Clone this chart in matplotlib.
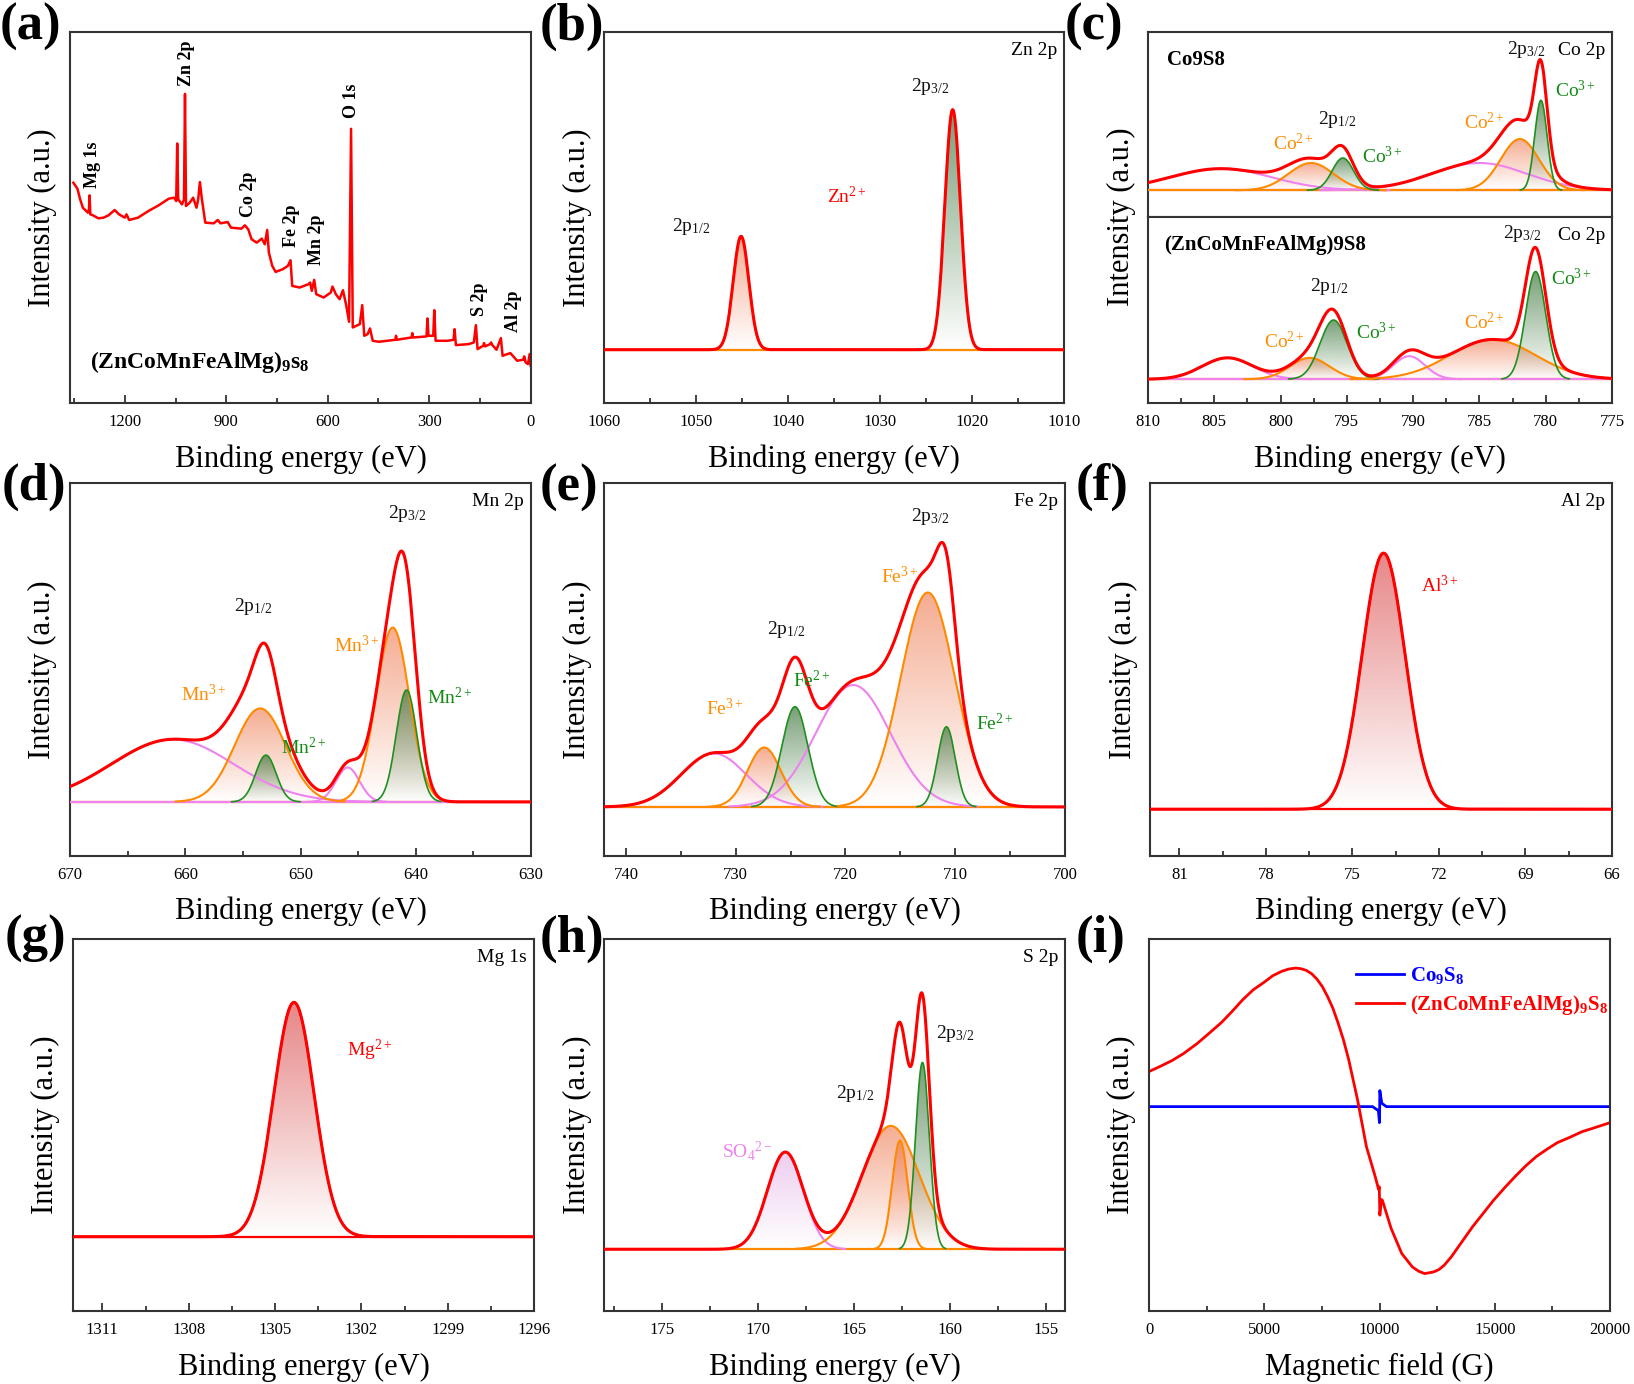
import numpy as np
import matplotlib
matplotlib.use('Agg')
import matplotlib.pyplot as plt
from matplotlib.colors import to_rgb
from matplotlib.patches import Polygon

plt.rcParams['font.family'] = ['Liberation Serif', 'DejaVu Serif']
plt.rcParams['mathtext.fontset'] = 'custom'
plt.rcParams['mathtext.rm'] = 'Liberation Serif'
plt.rcParams['mathtext.it'] = 'Liberation Serif:italic'
plt.rcParams['mathtext.bf'] = 'Liberation Serif:bold'

W, H = 1634, 1384

# ---------------- data ----------------
# (a) survey spectrum: binding energy (eV) / intensity (a.u.)
survey_ev = [1352, 1340, 1332, 1324, 1309, 1306, 1304, 1302, 1294, 1278, 1263, 1248, 1230, 1217,
             1200, 1195, 1187, 1161, 1130, 1100, 1070, 1054, 1048, 1045, 1042, 1031, 1025, 1022,
             1019, 1008, 998, 988, 983, 978, 972, 962, 937, 925, 917, 896, 886, 855, 845, 835, 825,
             810, 795, 786, 779, 774, 764, 754, 733, 718, 710, 705, 683, 657, 652, 647, 640, 634,
             612, 591, 586, 576, 565, 555, 545, 537, 531, 526, 505, 498, 492, 482, 475, 467, 449,
             400, 398, 396, 352, 350, 348, 308, 305, 302, 288, 285, 281, 245, 228, 225, 221, 183,
             168, 162, 157, 140, 138, 135, 120, 117, 114, 101, 88, 83, 60, 40, 22, 19, 15, 8, 3, 0]
survey_int = [662, 644, 612, 587, 572, 582, 624, 567, 564, 555, 557, 564, 580, 567,
              557, 567, 550, 557, 577, 594, 614, 617, 607, 780, 612, 597, 612, 929,
              592, 602, 617, 587, 612, 664, 612, 542, 540, 550, 540, 544, 527, 524, 534, 522, 492,
              482, 494, 477, 520, 452, 412, 394, 402, 412, 429, 352, 347, 357, 362, 337, 370, 327,
              317, 332, 350, 327, 312, 339, 292, 244, 824, 227, 237, 294, 202, 207, 224, 187, 184,
              190, 202, 190, 197, 210, 197, 200, 254, 202, 202, 279, 187, 187, 190, 222, 174, 177,
              182, 234, 162, 172, 180, 170, 177, 182, 175, 160, 195, 142, 150, 127, 130, 140, 122, 117, 147, 112]
survey_names = ['Mg 1s', 'Zn 2p', 'Co 2p', 'Fe 2p', 'Mn 2p', 'O 1s', 'S 2p', 'Al 2p']
survey_name_ev = [1296, 1019, 833, 708, 634, 530, 151, 51]
survey_name_int = [717, 1022, 627, 532, 492, 907, 312, 277]

# fitted components: centre (eV), height (a.u.), FWHM (eV), species colour key
zn_center = [1045.1, 1022.1]
zn_height = [340, 720]
zn_fwhm = [2.0, 2.0]
zn_kind = ['o', 'g']

co_ref_center = [804.5, 785.0, 797.7, 795.3, 781.95, 780.36]
co_ref_height = [65, 82, 82, 97, 154, 270]
co_ref_fwhm = [9.0, 8.5, 4.0, 1.9, 3.4, 1.1]
co_ref_kind = ['p', 'p', 'o', 'g', 'o', 'g']

co_hea_center = [804.0, 790.3, 797.8, 796.0, 784.0, 780.76]
co_hea_height = [64, 69, 64, 177, 119, 322]
co_hea_fwhm = [4.5, 2.8, 3.5, 2.4, 7.6, 1.8]
co_hea_kind = ['p', 'p', 'o', 'g', 'o', 'g']

mn_center = [661.1, 645.9, 653.5, 653.0, 642.0, 640.8]
mn_height = [187, 103, 280, 140, 522, 335]
mn_fwhm = [12.5, 2.4, 5.2, 2.1, 3.4, 2.1]
mn_kind = ['p', 'p', 'o', 'g', 'o', 'g']

fe_center = [732.0, 719.3, 727.4, 724.6, 712.5, 710.8]
fe_height = [160, 365, 178, 300, 642, 240]
fe_fwhm = [7.0, 8.0, 3.6, 2.8, 5.8, 1.9]
fe_kind = ['p', 'p', 'o', 'g', 'o', 'g']

al_center = [73.92]
al_height = [767]
al_fwhm = [1.75]
al_kind = ['r']

mg_center = [1304.34]
mg_height = [703]
mg_fwhm = [1.65]
mg_kind = ['r']

s_center = [168.56, 163.07, 162.59, 161.42]
s_height = [291, 370, 326, 560]
s_fwhm = [2.2, 3.5, 0.95, 0.85]
s_kind = ['p', 'o', 'o', 'g']

# (i) EPR: magnetic field (G) / intensity (a.u.)
epr_ref_field = [0, 9700, 9950, 10000, 10015, 10100, 10300, 20000]
epr_ref_int = [612, 612, 600, 564, 660, 622, 612, 612]
epr_hea_field = [0, 500, 1000, 1500, 2071, 2531, 3144, 3604, 4064, 4525, 4985, 5368, 5752, 6058,
                 6365, 6595, 6825, 7055, 7285, 7515, 7745, 7975, 8206, 8436, 8666, 9049,
                 9433, 9816, 9960, 9990, 10015, 10080, 10123, 10506, 10966, 11426, 11702, 11963,
                 12347, 12577, 12807, 13113, 13420, 13727, 14034, 14494, 14954, 15414, 15874,
                 16334, 16794, 17255, 17715, 18252, 18788, 19248, 20000]
epr_hea_int = [717, 733, 750, 771, 800, 827, 864, 897, 932, 962, 984, 1004, 1017, 1024,
               1027, 1025, 1020, 1010, 994, 972, 942, 907, 862, 812, 752, 632,
               492, 402, 364, 372, 287, 334, 332, 247, 172, 132, 119, 112,
               117, 124, 137, 162, 192, 222, 252, 292, 332, 368, 402,
               434, 462, 484, 504, 520, 537, 547, 564]

# ---------------- styles ----------------
RED = '#ff0000'
LINE = {'o': '#ff8a00', 'g': '#1f8f1f', 'p': '#ee82ee', 'r': RED}
FILL = {'o': '#ee7548', 'g': '#2d6a2d', 'p': '#d890dc', 'r': '#d83c3c'}
ALPHA = {'o': 0.6, 'g': 0.65, 'p': 0.45, 'r': 0.62}
TXT = {'k': '#111111', 'o': '#ff8c00', 'g': '#138a13', 'r': RED, 'p': '#ee82ee'}


def gauss(x, c, h, w):
    return h * np.exp(-4 * np.log(2) * (x - c) ** 2 / w ** 2)


def grad_fill(ax, x, y, color, amax):
    verts = np.column_stack([np.r_[x, x[::-1]], np.r_[y, np.zeros_like(y)]])
    clip = Polygon(verts, closed=True, transform=ax.transData, facecolor='none', edgecolor='none')
    rgba = np.zeros((256, 1, 4))
    rgba[..., :3] = to_rgb(color)
    rgba[:, 0, 3] = np.linspace(0, amax, 256)
    im = ax.imshow(rgba, extent=[x.min(), x.max(), 0, y.max()], origin='lower',
                   aspect='auto', interpolation='bilinear', zorder=2)
    im.set_clip_path(clip)


def draw_fit(ax, xlim, centers, heights, fwhms, kinds, filled, base):
    x = np.linspace(min(xlim), max(xlim), 2500)
    total = np.zeros_like(x)
    for k in base:
        ax.plot(xlim, [0, 0], color=LINE[k], lw=1.6, zorder=3)
    for c, h, w, k in zip(centers, heights, fwhms, kinds):
        y = gauss(x, c, h, w)
        total += y
        if k in filled:
            grad_fill(ax, x, y, FILL[k], ALPHA[k])
        ax.plot(x, np.where(y > 0.004 * h, y, np.nan), color=LINE[k],
                lw=1.2 if k == 'g' else 1.5, zorder=3)
    ax.plot(x, total, color=RED, lw=2.2, zorder=5)


def style(ax, xlim, ylim, major, minor, xlabel='Binding energy (eV)', ylabel=True):
    ax.set_xlim(xlim)
    ax.set_ylim(ylim)
    ax.set_xticks(major, [str(v) for v in major])
    ax.set_xticks(minor, minor=True)
    ax.set_yticks([])
    ax.tick_params(axis='x', which='both', direction='in', labelsize=12, pad=8,
                   width=1.2, color='#222222', labelcolor='black')
    ax.tick_params(axis='x', which='major', length=6)
    ax.tick_params(axis='x', which='minor', length=3.5)
    for s in ax.spines.values():
        s.set_linewidth(1.5)
        s.set_color('#333333')
    if xlabel:
        ax.set_xlabel(xlabel, fontsize=22, labelpad=10)
    if ylabel:
        ax.set_ylabel('Intensity (a.u.)', fontsize=22, labelpad=9)


def corner(ax, s):
    ax.annotate(s, xy=(1, 1), xycoords='axes fraction', xytext=(-5, -7),
                textcoords='offset points', ha='right', va='top', fontsize=14)


def notes(ax, items):
    for s, x, y, k in items:
        ax.text(x, y, s, color=TXT[k], fontsize=14, ha='center', va='center', zorder=6)


def panel(x0, y0, x1, y1):
    return fig.add_axes([x0 / W, 1 - y1 / H, (x1 - x0) / W, (y1 - y0) / H])


fig = plt.figure(figsize=(W / 100, H / 100), dpi=100)
fig.patch.set_facecolor('white')

# ---- (a) survey ----
ax = panel(70, 32, 531, 403)
ax.plot(survey_ev, survey_int, color=RED, lw=1.8)
for s, x, y in zip(survey_names, survey_name_ev, survey_name_int):
    ax.text(x, y, s, rotation=90, fontsize=13, fontweight='bold', ha='center', va='center')
ax.text(1303, 122, r'$\mathbf{(ZnCoMnFeAlMg)_9s_8}$', fontsize=17, ha='left', va='center')
style(ax, (1362, -1), (0, 1115), [1200, 900, 600, 300, 0], [1350, 1050, 750, 450, 150])

# ---- (b) Zn 2p ----
ax = panel(604, 32, 1064, 403)
xl = (1060, 1010)
draw_fit(ax, xl, zn_center, zn_height, zn_fwhm, zn_kind, 'og', 'o')
notes(ax, [(r'2p$_{3/2}$', 1024.5, 790, 'k'), (r'2p$_{1/2}$', 1050.5, 370, 'k'),
           (r'Zn$^{2+}$', 1033.6, 460, 'r')])
corner(ax, 'Zn 2p')
style(ax, xl, (-160, 953), list(range(1060, 1009, -10)), list(range(1055, 1010, -10)))

# ---- (c) Co 2p ----
xl = (810, 775)
co_major = [810, 805, 800, 795, 790, 785, 780, 775]
co_minor = [807.5, 802.5, 797.5, 792.5, 787.5, 782.5, 777.5]
ax = panel(1148, 32, 1612, 217)
draw_fit(ax, xl, co_ref_center, co_ref_height, co_ref_fwhm, co_ref_kind, 'og', 'po')
notes(ax, [(r'2p$_{3/2}$', 781.5, 422, 'k'), (r'Co$^{3+}$', 777.8, 300, 'g'),
           (r'Co$^{2+}$', 784.6, 202, 'o'), (r'2p$_{1/2}$', 795.7, 212, 'k'),
           (r'Co$^{2+}$', 799.0, 140, 'o'), (r'Co$^{3+}$', 792.3, 100, 'g')])
ax.text(808.6, 392, 'Co9S8', fontsize=15, fontweight='bold', ha='left', va='center')
corner(ax, 'Co 2p')
style(ax, xl, (-80, 475), co_major, co_minor, xlabel=None, ylabel=False)
ax.tick_params(axis='x', which='both', bottom=False, labelbottom=False)

ax = panel(1148, 217, 1612, 403)
draw_fit(ax, xl, co_hea_center, co_hea_height, co_hea_fwhm, co_hea_kind, 'og', 'op')
notes(ax, [(r'2p$_{3/2}$', 781.8, 437, 'k'), (r'Co$^{3+}$', 778.1, 302, 'g'),
           (r'Co$^{2+}$', 784.6, 169, 'o'), (r'2p$_{1/2}$', 796.3, 277, 'k'),
           (r'Co$^{3+}$', 792.8, 139, 'g'), (r'Co$^{2+}$', 799.7, 112, 'o')])
ax.text(808.75, 402, '(ZnCoMnFeAlMg)9S8', fontsize=15, fontweight='bold', ha='left', va='center')
corner(ax, 'Co 2p')
style(ax, xl, (-71, 485), co_major, co_minor, ylabel=False)
ax.set_ylabel('Intensity (a.u.)', fontsize=22)
ax.yaxis.set_label_coords(-12 / 464, 1.0)

# ---- (d) Mn 2p ----
ax = panel(70, 483, 531, 856)
xl = (670, 630)
draw_fit(ax, xl, mn_center, mn_height, mn_fwhm, mn_kind, 'og', 'op')
notes(ax, [(r'2p$_{3/2}$', 640.7, 865, 'k'), (r'2p$_{1/2}$', 654.1, 585, 'k'),
           (r'Mn$^{3+}$', 645.1, 468, 'o'), (r'Mn$^{2+}$', 637.1, 313, 'g'),
           (r'Mn$^{3+}$', 658.4, 322, 'o'), (r'Mn$^{2+}$', 649.7, 163, 'g')])
corner(ax, 'Mn 2p')
style(ax, xl, (-162, 955), [670, 660, 650, 640, 630], [665, 655, 645, 635])

# ---- (e) Fe 2p ----
ax = panel(604, 483, 1065, 856)
xl = (742, 700)
draw_fit(ax, xl, fe_center, fe_height, fe_fwhm, fe_kind, 'og', 'po')
notes(ax, [(r'2p$_{3/2}$', 712.3, 870, 'k'), (r'Fe$^{3+}$', 715.1, 690, 'o'),
           (r'2p$_{1/2}$', 725.4, 530, 'k'), (r'Fe$^{2+}$', 723.1, 380, 'g'),
           (r'Fe$^{3+}$', 731.0, 295, 'o'), (r'Fe$^{2+}$', 706.4, 250, 'g')])
corner(ax, 'Fe 2p')
style(ax, xl, (-147, 970), [740, 730, 720, 710, 700], [735, 725, 715, 705])

# ---- (f) Al 2p ----
ax = panel(1150, 483, 1612, 856)
xl = (82.02, 66)
draw_fit(ax, xl, al_center, al_height, al_fwhm, al_kind, 'r', 'r')
notes(ax, [(r'Al$^{3+}$', 71.96, 669, 'r')])
corner(ax, 'Al 2p')
style(ax, xl, (-140, 977), [81, 78, 75, 72, 69, 66], [79.5, 76.5, 73.5, 70.5, 67.5])

# ---- (g) Mg 1s ----
ax = panel(73, 939, 534, 1311)
xl = (1312.02, 1296)
draw_fit(ax, xl, mg_center, mg_height, mg_fwhm, mg_kind, 'r', 'r')
notes(ax, [(r'Mg$^{2+}$', 1301.7, 558, 'r')])
corner(ax, 'Mg 1s')
style(ax, xl, (-223, 893), [1311, 1308, 1305, 1302, 1299, 1296],
      [1309.5, 1306.5, 1303.5, 1300.5, 1297.5])

# ---- (h) S 2p ----
ax = panel(604, 939, 1065, 1311)
xl = (178, 154)
draw_fit(ax, xl, s_center, s_height, s_fwhm, s_kind, 'pog', 'o')
notes(ax, [(r'2p$_{3/2}$', 159.72, 648, 'k'), (r'2p$_{1/2}$', 164.92, 468, 'k'),
           (r'SO$_4$$^{2-}$', 170.57, 293, 'p')])
corner(ax, 'S 2p')
style(ax, xl, (-185, 930), [175, 170, 165, 160, 155], [177.5, 172.5, 167.5, 162.5, 157.5])

# ---- (i) EPR ----
ax = panel(1149, 939, 1610, 1311)
ax.plot(epr_ref_field, epr_ref_int, color='#0000ff', lw=2, label=r'$\mathbf{Co_9S_8}$')
ax.plot(epr_hea_field, epr_hea_int, color=RED, lw=2, label=r'$\mathbf{(ZnCoMnFeAlMg)_9S_8}$')
style(ax, (0, 20000), (0, 1114), [0, 5000, 10000, 15000, 20000], [2500, 7500, 12500, 17500],
      xlabel='Magnetic field (G)')
ax.legend(loc='upper left', bbox_to_anchor=(0.449, 0.93), frameon=False, prop={'size': 15},
          handlelength=2.3, handletextpad=0.3, labelspacing=0.35, borderpad=0,
          borderaxespad=0, labelcolor='linecolor')

# ---- panel letters ----
for s, x, y in [('(a)', 0, 27), ('(b)', 540, 27), ('(c)', 1065, 27),
                ('(d)', 2, 487), ('(e)', 540, 488), ('(f)', 1076, 487),
                ('(g)', 5, 939), ('(h)', 540, 939), ('(i)', 1076, 939)]:
    fig.text(x / W, 1 - y / H, s, fontsize=38, fontweight='bold', ha='left', va='center')

fig.savefig('out.png', dpi=100)
